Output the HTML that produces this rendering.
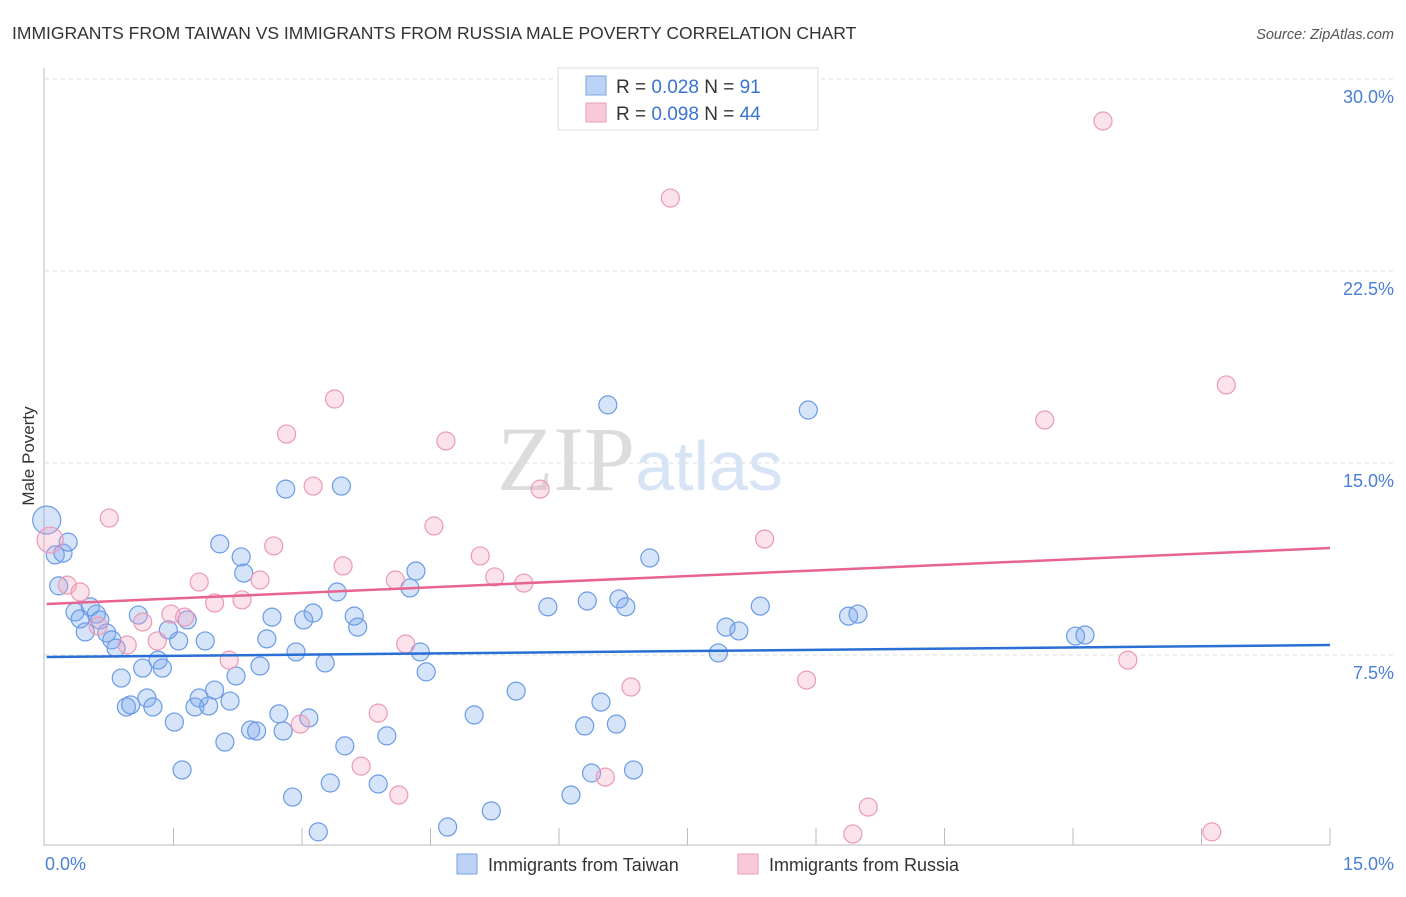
<!DOCTYPE html>
<html><head><meta charset="utf-8"><style>
body{margin:0;background:#fff;font-family:"Liberation Sans",sans-serif}
svg text{font-family:"Liberation Sans",sans-serif}
</style></head><body>
<svg width="1406" height="892" viewBox="0 0 1406 892" xmlns="http://www.w3.org/2000/svg">
<text x="12" y="39" font-size="17.5" fill="#333">IMMIGRANTS FROM TAIWAN VS IMMIGRANTS FROM RUSSIA MALE POVERTY CORRELATION CHART</text>
<text x="1394" y="39" font-size="14.5" fill="#555" font-style="italic" text-anchor="end">Source: ZipAtlas.com</text>
<g id="grid"></g>
<g id="axes"></g>
<text x="640" y="490" font-size="92" fill="#e6e6e6" text-anchor="middle" font-family="Liberation Serif"><tspan fill="#dcdcdc" font-family="Liberation Serif">ZIP</tspan><tspan fill="#d6e4f5" font-family="Liberation Sans" font-size="70">atlas</tspan></text>
<g id="pts"></g>
<g id="trend"></g>
<text transform="translate(34,456) rotate(-90)" font-size="17" fill="#333" text-anchor="middle">Male Poverty</text>
<text x="45" y="870" font-size="18" fill="#4a7fd6">0.0%</text>
<text x="1394" y="870" font-size="18" fill="#4a7fd6" text-anchor="end">15.0%</text>
<g>
<rect x="558" y="68" width="260" height="62" fill="#fff" stroke="#ddd"/>
<rect x="586" y="76" width="20" height="19" fill="#bcd3f5" stroke="#7aa3e0"/>
<rect x="586" y="103" width="20" height="19" fill="#f8c9d8" stroke="#eba0b8"/>
<text x="616" y="93" font-size="19" fill="#333">R = <tspan fill="#3a74d0">0.028</tspan>   N =  <tspan fill="#3a74d0">91</tspan></text>
<text x="616" y="120" font-size="19" fill="#333">R = <tspan fill="#3a74d0">0.098</tspan>   N = <tspan fill="#3a74d0">44</tspan></text>
</g>
<g>
<rect x="457" y="854" width="20" height="20" fill="#bcd3f5" stroke="#7aa3e0"/>
<text x="488" y="871" font-size="18" fill="#333">Immigrants from Taiwan</text>
<rect x="738" y="854" width="20" height="20" fill="#f8c9d8" stroke="#eba0b8"/>
<text x="769" y="871" font-size="18" fill="#333">Immigrants from Russia</text>
</g>
</svg>
<script>
const yTicks=[7.5,15,22.5,30];
const yTickLabels=["7.5%","15.0%","22.5%","30.0%"];
const xTicks=[1.5,3,4.5,6,7.5,9,10.5,12,13.5,15];
const taiwanX=[0.02,0.12,0.21,0.27,0.16,0.35,0.41,0.47,0.53,0.60,0.64,0.72,0.78,0.83,0.89,0.95,1.00,1.09,1.14,1.19,1.26,1.32,1.37,1.44,1.51,1.56,1.60,1.66,1.75,1.80,1.87,1.91,1.98,2.04,2.10,2.16,2.23,2.29,2.32,2.40,2.47,2.51,2.59,2.65,2.73,2.78,2.81,2.89,2.93,3.02,3.08,3.13,3.19,3.27,3.33,3.41,3.46,3.50,3.61,3.65,3.89,3.99,4.26,4.33,4.38,4.45,4.70,5.01,5.21,5.50,5.87,6.14,6.30,6.33,6.38,6.49,6.57,6.67,6.70,6.78,6.87,7.06,7.86,7.95,8.10,8.35,8.91,9.38,9.49,12.03,12.14];
const taiwanY=[12.77,11.41,11.48,11.91,10.20,9.18,8.91,8.40,9.38,9.10,8.87,8.36,8.09,7.77,6.60,5.47,5.55,9.06,6.99,5.82,5.47,7.30,6.99,8.48,4.88,8.05,3.01,8.87,5.47,5.82,8.05,5.51,6.13,11.84,4.10,5.70,6.68,11.33,10.70,4.57,4.53,7.07,8.13,8.98,5.20,4.53,13.98,1.95,7.62,8.87,5.04,9.14,0.59,7.19,2.50,9.96,14.10,3.95,9.02,8.59,2.46,4.34,10.12,10.78,7.62,6.84,0.78,5.16,1.41,6.09,9.38,2.03,4.73,9.61,2.89,5.66,17.27,4.80,9.69,9.38,3.01,11.29,7.58,8.59,8.44,9.41,17.07,9.02,9.10,8.24,8.28];
const russiaX=[0.06,0.26,0.41,0.62,0.75,0.96,1.14,1.31,1.47,1.63,1.80,1.98,2.15,2.30,2.51,2.67,2.82,2.98,3.13,3.38,3.48,3.69,3.89,4.09,4.13,4.21,4.54,4.68,5.08,5.25,5.59,5.78,6.54,6.84,7.30,8.40,8.89,9.43,9.61,11.67,12.35,12.64,13.62,13.79];
const russiaY=[11.99,10.23,9.96,8.63,12.85,7.89,8.79,8.05,9.10,8.98,10.35,9.53,7.30,9.65,10.43,11.76,16.13,4.80,14.10,17.50,10.98,3.16,5.23,10.43,2.03,7.93,12.54,15.86,11.37,10.55,10.31,13.98,2.73,6.25,25.35,12.03,6.52,0.51,1.56,16.68,28.36,7.30,0.59,18.05];
const taiwanTrend=[7.42,7.89];
const russiaTrend=[9.49,11.68];
const NS="http://www.w3.org/2000/svg";
const sx=v=>45+v/15*1285;
const sy=v=>847-v/7.5*192;
function mk(t,a,p){const e=document.createElementNS(NS,t);for(const k in a)e.setAttribute(k,a[k]);p.appendChild(e);return e;}
const grid=document.getElementById('grid'),axes=document.getElementById('axes');
yTicks.forEach((t,i)=>{
 const l=mk('line',{x1:45,x2:1395,y1:sy(t),y2:sy(t),stroke:'#ddd','stroke-dasharray':'4,4'},grid);
 
 
 const tx=mk('text',{x:1394,y:sy(t)+24,'font-size':18,fill:'#4a7fd6','text-anchor':'end'},grid);
 tx.textContent=yTickLabels[i];
 
 
});
const la=mk('line',{x1:44,x2:44,y1:68,y2:845,stroke:'#bbb'},axes);


const ba=mk('line',{x1:44,x2:1330,y1:845,y2:845,stroke:'#bbb'},axes);


xTicks.forEach(t=>{
 const l=mk('line',{x1:sx(t),x2:sx(t),y1:828,y2:845,stroke:'#bbb'},axes);
 
 
});
const pts=document.getElementById('pts');
function dots(X,Y,fill,stroke,name){
 X.forEach((x,i)=>{
  const r=(i===0)?(name==='taiwan-point'?14:13):9;
  const c=mk('circle',{cx:sx(x),cy:sy(Y[i]),r:r,fill:fill,stroke:stroke,'stroke-width':1.2},pts);
  
  
 });
}
dots(taiwanX,taiwanY,'rgba(120,165,235,0.3)','#6a9be6','taiwan-point');
dots(russiaX,russiaY,'rgba(245,160,190,0.3)','#eb9ab5','russia-point');
const tr=document.getElementById('trend');
const t1=mk('line',{x1:sx(0.02),x2:sx(15),y1:sy(taiwanTrend[0]),y2:sy(taiwanTrend[1]),stroke:'#2a6fd6','stroke-width':2.5},tr);


const t2=mk('line',{x1:sx(0.02),x2:sx(15),y1:sy(russiaTrend[0]),y2:sy(russiaTrend[1]),stroke:'#e8638e','stroke-width':2.5},tr);


</script>
</body></html>
